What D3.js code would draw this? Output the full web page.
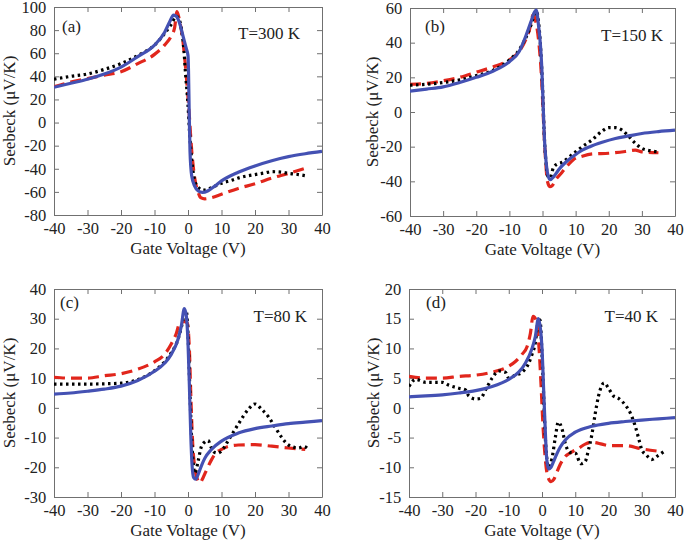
<!DOCTYPE html>
<html><head><meta charset="utf-8">
<script src="https://cdn.jsdelivr.net/npm/d3@7"></script>
<style>body{margin:0;background:#fff}svg{display:block}</style>
</head><body>
<svg id="c" width="685" height="542"></svg>
<script>
// ---------- data ----------
const xTicks = [-40,-30,-20,-10,0,10,20,30,40];
const panelLabels = ["(a)","(b)","(c)","(d)"];
const tempLabels = ["T=300 K","T=150 K","T=80 K","T=40 K"];
const yDomains = [[-80,100],[-60,60],[-30,40],[-15,20]];
const yTicks = [
  [-80,-60,-40,-20,0,20,40,60,80,100],
  [-60,-40,-20,0,20,40,60],
  [-30,-20,-10,0,10,20,30,40],
  [-15,-10,-5,0,5,10,15,20]
];
// (a) T=300 K
const aBlue = [[-40,30.5],[-35,34],[-30,37.5],[-25,42],[-20,48],[-15,57],[-10,67],[-7,78],[-5.5,87],[-4.3,93],[-3.5,92],[-2.5,86],[-1.5,75],[-0.5,64],[0,58],[0.15,45],[0.35,10],[0.6,-25],[1.1,-46],[2,-55],[3,-59],[4.3,-60.5],[6,-59],[8,-55],[10,-50.5],[15,-43],[20,-37.5],[25,-33],[30,-29.5],[35,-27],[40,-25]];
const aBlack = [[-40,37.5],[-35,40],[-30,42],[-25,46],[-20,51],[-15,58],[-10,67],[-7,77],[-5,85],[-3.5,92],[-2.5,88],[-1.8,78],[-1.2,62],[-0.8,45],[0,15],[0.5,-10],[1.1,-32],[2,-50],[3,-56],[4.5,-58.5],[6,-57.5],[8,-55],[10,-52.5],[13,-50],[15,-48],[18,-46],[20,-45],[23,-43.5],[25,-42.5],[28,-43],[30,-44],[33,-45],[35,-46]];
const aRed = [[-40,31],[-35,35],[-30,38],[-25,41],[-20,44],[-15,51],[-10,59],[-7,67],[-5,75],[-4,82],[-3.3,96],[-2.5,88],[-1.5,70],[-0.5,40],[0.3,10],[1.1,-24],[2,-48],[3,-60],[3.8,-65],[5,-66],[7,-65],[10,-62],[15,-57],[20,-53],[25,-48],[30,-44],[35,-39.5]];
// (b) T=150 K
const bBlue = [[-40,12],[-35,13.2],[-30,14.5],[-25,17],[-20,20],[-15,23.5],[-10,29],[-7,35],[-5,44],[-3.5,52],[-2.6,57],[-1.9,58.8],[-1.2,50],[-0.6,38],[-0.2,25],[0.25,1],[0.6,-16],[1.05,-28],[1.6,-36],[2.3,-39],[3.5,-37],[5,-33],[7,-29],[9.3,-25.5],[12,-22],[14.3,-20],[18,-17.5],[22,-15.3],[26,-13.8],[30,-12.4],[35,-11.3],[40,-10.5]];
const bBlack = [[-40,15.5],[-35,16],[-30,17],[-25,18.5],[-20,21],[-15,24],[-10,30],[-7,36],[-5,43],[-3.5,50],[-2.5,56],[-1.8,58],[-1.2,52],[-0.6,38],[0,15],[0.5,-12],[1,-28],[1.6,-37],[2.3,-38],[3.3,-32],[4.5,-30],[6,-29],[8,-26],[10,-23],[12,-20],[15,-16],[18,-11],[20,-9],[22,-9],[24,-10.5],[26,-14],[28,-18],[30,-21],[33,-22.5],[35,-23]];
const bRed = [[-40,16],[-35,16.5],[-30,18],[-25,20],[-20,23],[-15,26],[-10,30],[-7,35],[-5,42],[-4,47],[-2.8,56],[-2,52],[-1,38],[-0.3,20],[0.3,-5],[0.75,-22],[1.5,-40],[2.2,-43],[2.9,-42.5],[4,-39],[5.8,-35],[7.5,-31],[9.3,-27.5],[12,-25.5],[15,-24.2],[20,-23.8],[25,-22.8],[28,-22],[30,-23],[35,-23.5]];
// (c) T=80 K
const cBlue = [[-40,4.6],[-35,5],[-30,5.6],[-25,6.3],[-20,7.3],[-15,9.2],[-10,12.3],[-7,15],[-5,18],[-3,23],[-2,27.5],[-1.1,33.4],[-0.5,31],[0,22],[0.4,8],[0.8,-8],[1.2,-19],[1.7,-23.5],[2.3,-24],[3,-22.5],[4,-19.5],[5,-17],[7,-14],[10,-11.2],[15,-8.5],[20,-7],[25,-6.1],[30,-5.3],[35,-4.8],[40,-4.3]];
const cBlack = [[-40,8],[-35,8],[-30,8],[-25,8.1],[-20,8.3],[-15,9.5],[-10,12.5],[-7,15.5],[-5,18.5],[-3,23],[-2,27],[-1.2,31],[-0.5,32.5],[0,25],[0.5,8],[1,-8],[1.5,-18],[2.1,-22],[3,-18],[4,-13],[5,-11.5],[6,-11],[7,-13.5],[8,-15],[9,-15.2],[10,-14.5],[12,-11],[15,-5.5],[18,-0.5],[20,1.3],[22,-0.5],[24,-3],[26,-6.5],[28,-10],[30,-12.5],[33,-13.5],[34.5,-13],[36,-14]];
const cRed = [[-40,10.3],[-35,10],[-30,10],[-25,10.8],[-20,11.5],[-15,13],[-10,15.5],[-7,18],[-5,21.5],[-3.5,25],[-2.4,28.8],[-1,29],[-0.2,28.5],[0.4,20],[0.9,2],[1.4,-12],[2,-20],[2.8,-24],[3.6,-25.2],[4.5,-23.5],[5.5,-21],[7,-17.5],[8.5,-15],[10,-14],[12,-13],[15,-12.5],[20,-12.4],[25,-12.9],[30,-13.5],[35,-14]];
// (d) T=40 K
const dBlue = [[-40,1.85],[-35,2],[-30,2.2],[-25,2.5],[-20,2.9],[-15,3.6],[-10,4.8],[-7,6],[-5,7.5],[-3,10],[-2,12],[-1.1,15],[-0.4,13],[0,10],[0.5,3],[1,-4],[1.4,-8.5],[2,-10.3],[2.7,-10],[3.5,-9],[4.5,-7.7],[5.5,-6.6],[7,-5.4],[10,-4.1],[15,-3.1],[20,-2.6],[25,-2.3],[30,-2.05],[35,-1.85],[40,-1.65]];
const dBlack = [[-40,3.6],[-38,4.8],[-35,4.3],[-32,4.3],[-30,4.3],[-28,3.8],[-25,3.3],[-23,3],[-22,2],[-20,1.5],[-18.5,1.6],[-17,3],[-15,5],[-13,6.2],[-11,6],[-10,5],[-8,5.5],[-6,6],[-4,7.5],[-3,9],[-2,11],[-1.3,14],[-0.6,14.8],[0,9],[0.5,2],[1,-5],[1.5,-8.8],[2,-10],[3,-8.5],[4,-5],[4.9,-2.4],[6,-3.5],[7,-6],[8.4,-7.5],[10,-7.6],[11.7,-9.4],[13,-9],[14,-7],[15,-4.5],[16,-1],[17,2],[18.7,4.2],[20,3.3],[21.5,2],[23,1.6],[25,0.5],[26.5,-0.8],[28,-3],[29,-5],[30,-7],[31.5,-8],[33,-8.7],[35,-8],[37,-7.2]];
const dRed = [[-40,5.3],[-35,5],[-30,5],[-25,5.3],[-20,5.5],[-15,6],[-10,7],[-8,7.8],[-6,9],[-4.5,10.3],[-3.5,12.5],[-2.7,15.4],[-1.8,14.8],[-1,11],[-0.3,4],[0.3,-3],[0.9,-8],[1.7,-11.5],[2.7,-12.4],[3.6,-12],[4.5,-10.8],[5.5,-9.5],[7,-8.2],[9,-7.4],[11,-6.8],[13,-6.1],[15,-5.8],[18,-6.1],[20,-6.35],[25,-6.35],[30,-6.9],[35,-7.3]];

const blueSeries = [aBlue,bBlue,cBlue,dBlue];
const blackSeries = [aBlack,bBlack,cBlack,dBlack];
const redSeries = [aRed,bRed,cRed,dRed];

// ---------- layout ----------
const boxes = [
  {l:54,r:322,t:7,b:215, yl:39, pl:8, pt:25, tr:22, tt:32},
  {l:410,r:675,t:8,b:216, yl:32, pl:15, pt:24, tr:12, tt:33},
  {l:54,r:322,t:289,b:497, yl:39, pl:6, pt:19, tr:15, tt:33},
  {l:409,r:675,t:289,b:497, yl:30, pl:17, pt:19, tr:17, tt:33}
];
const svg = d3.select("#c");
const font = "'Liberation Serif','Times New Roman',serif";
const axisCol = "#707070", textCol = "#222";

boxes.forEach((bx,i)=>{
  const x = d3.scaleLinear().domain([-40,40]).range([bx.l,bx.r]);
  const y = d3.scaleLinear().domain(yDomains[i]).range([bx.b,bx.t]);
  const g = svg.append("g");
  const cid = "clip"+i;
  g.append("clipPath").attr("id",cid).append("rect")
    .attr("x",bx.l).attr("y",bx.t).attr("width",bx.r-bx.l).attr("height",bx.b-bx.t);

  const mk = (ax)=>ax.tickSizeInner(-5).tickSizeOuter(0).tickPadding(7);
  const bottom = g.append("g").attr("transform",`translate(0,${bx.b})`)
    .call(mk(d3.axisBottom(x).tickValues(xTicks).tickFormat(d=>d)));
  const left = g.append("g").attr("transform",`translate(${bx.l},0)`)
    .call(mk(d3.axisLeft(y).tickValues(yTicks[i]).tickFormat(d=>d)));
  const top = g.append("g").attr("transform",`translate(0,${bx.t})`)
    .call(mk(d3.axisTop(x).tickValues(xTicks).tickFormat("")));
  const right = g.append("g").attr("transform",`translate(${bx.r},0)`)
    .call(mk(d3.axisRight(y).tickValues(yTicks[i]).tickFormat("")));
  [bottom,left,top,right].forEach(a=>{
    a.select(".domain").attr("stroke",axisCol).attr("stroke-width",1);
    a.selectAll(".tick line").attr("stroke",axisCol);
    a.selectAll("text").attr("font-family",font).attr("font-size",16.5).attr("fill",textCol);
  });
  bottom.selectAll("text").attr("dy","0.72em");
  left.selectAll("text").attr("dx","-0.05em");

  g.append("text").attr("x",(bx.l+bx.r)/2).attr("y",bx.b+39)
    .attr("text-anchor","middle").attr("font-family",font).attr("font-size",17).attr("fill",textCol)
    .text("Gate Voltage (V)");
  const lx = bx.l-bx.yl, ly=(bx.t+bx.b)/2;
  g.append("text").attr("transform",`translate(${lx},${ly}) rotate(-90)`)
    .attr("text-anchor","middle").attr("font-family",font).attr("font-size",17).attr("fill",textCol)
    .text("Seebeck (μV/K)");

  g.append("text").attr("x",bx.l+bx.pl).attr("y",bx.t+bx.pt)
    .attr("font-family",font).attr("font-size",17).attr("fill",textCol).text(panelLabels[i]);
  g.append("text").attr("x",bx.r-bx.tr).attr("y",bx.t+bx.tt).attr("text-anchor","end")
    .attr("font-family",font).attr("font-size",17).attr("fill",textCol).text(tempLabels[i]);

  const line = d3.line().x(d=>x(d[0])).y(d=>y(d[1])).curve(d3.curveMonotoneX);
  const lines = g.append("g").attr("clip-path",`url(#${cid})`);
  lines.append("path").datum(redSeries[i]).attr("d",line).attr("fill","none")
    .attr("stroke","#e1261c").attr("stroke-width",3.2).attr("stroke-dasharray","11,6");
  lines.append("path").datum(blackSeries[i]).attr("d",line).attr("fill","none")
    .attr("stroke","#000").attr("stroke-width",3.2).attr("stroke-dasharray","2.5,3.5");
  lines.append("path").datum(blueSeries[i]).attr("d",line).attr("fill","none")
    .attr("stroke","#4451b3").attr("stroke-width",3.2);
});
</script>
</body></html>
